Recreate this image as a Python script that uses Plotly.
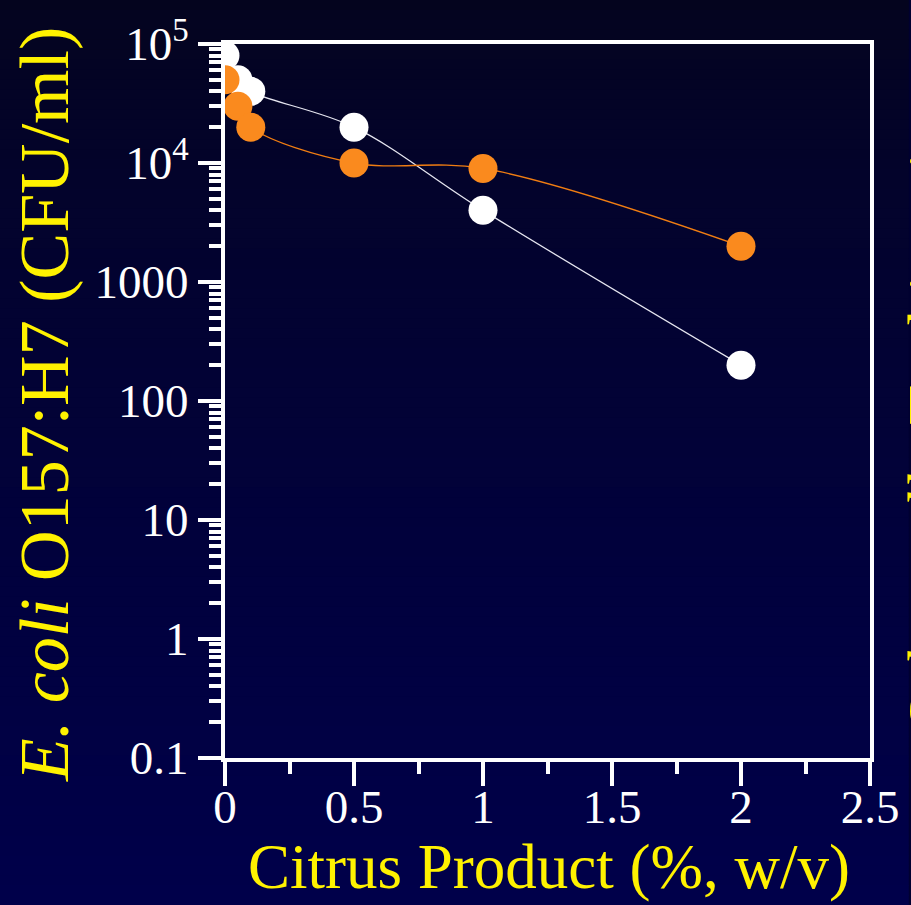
import plotly.graph_objects as go

# Bacterial counts versus citrus product concentration
conc = [0, 0.05, 0.1, 0.5, 1, 2]
ecoli_cfu = [80000, 50000, 40000, 20000, 4000, 200]
salmonella_cfu = [50000, 30000, 20000, 10000, 9000, 2000]

x_tick_vals = [0, 0.5, 1, 1.5, 2, 2.5]
x_tick_text = ["0", "0.5", "1", "1.5", "2", "2.5"]
x_minor_vals = [0.25, 0.75, 1.25, 1.75, 2.25]

y_tick_vals = [0.1, 1, 10, 100, 1000, 1e4, 1e5]
y_tick_text = ["0.1", "1", "10", "100", "1000", "10<sup>4</sup>", "10<sup>5</sup>"]
y_minor_vals = [m * 10 ** e for e in range(-1, 5) for m in range(2, 10)]

W, H = 911, 905
ML, MR, MT, MB = 225, 37, 44, 147
PW, PH = W - ML - MR, H - MT - MB

SERIF = "Liberation Serif, Times New Roman, serif"
YELLOW = "#FFF200"


def px_to_paper_x(px):
    return (px - ML) / PW


def px_to_paper_y(py):
    return (H - MB - py) / PH


fig = go.Figure()

fig.add_trace(go.Scatter(
    x=conc, y=ecoli_cfu, mode="lines+markers",
    line=dict(color="#E6E6F0", width=1.3, shape="spline", smoothing=1),
    marker=dict(color="white", size=29, line=dict(width=0)),
    showlegend=False,
))
fig.add_trace(go.Scatter(
    x=conc, y=salmonella_cfu, mode="lines+markers",
    line=dict(color="#F07D12", width=1.3, shape="spline", smoothing=1),
    marker=dict(color="#FA8A1E", size=29, line=dict(width=0)),
    showlegend=False,
))

# Vertical background gradient built from thin horizontal bands
top_rgb = (4, 4, 30)
bot_rgb = (0, 0, 74)
n_bands = 91
band_h = H / n_bands
shapes = []
for i in range(n_bands):
    t = (i / (n_bands - 1)) ** 0.75
    r = round(top_rgb[0] + (bot_rgb[0] - top_rgb[0]) * t)
    g = round(top_rgb[1] + (bot_rgb[1] - top_rgb[1]) * t)
    b = round(top_rgb[2] + (bot_rgb[2] - top_rgb[2]) * t)
    y0 = i * band_h
    y1 = (i + 1) * band_h + 1
    shapes.append(dict(
        type="rect", xref="paper", yref="paper", layer="below",
        x0=px_to_paper_x(-2), x1=px_to_paper_x(W + 2),
        y0=px_to_paper_y(y1), y1=px_to_paper_y(y0),
        fillcolor=f"rgb({r},{g},{b})", line=dict(width=0),
    ))

annotations = [
    dict(text="Citrus Product (%, w/v)", xref="paper", yref="paper",
         x=px_to_paper_x(551), y=px_to_paper_y(867),
         xanchor="center", yanchor="middle", showarrow=False,
         font=dict(family=SERIF, size=63, color=YELLOW)),
    dict(text="<i>E. coli</i> O157:H7 (CFU/ml)", xref="paper", yref="paper",
         x=px_to_paper_x(43), y=px_to_paper_y(405), textangle=-90,
         xanchor="center", yanchor="middle", showarrow=False,
         font=dict(family=SERIF, size=70, color=YELLOW)),
    dict(text="<i>Salmonella</i> Typhimurium", xref="paper", yref="paper",
         x=px_to_paper_x(935), y=px_to_paper_y(401), textangle=-90,
         xanchor="center", yanchor="middle", showarrow=False,
         font=dict(family=SERIF, size=65, color=YELLOW)),
]

fig.update_layout(
    width=W, height=H,
    margin=dict(l=ML, r=MR, t=MT, b=MB, pad=0),
    paper_bgcolor="#000030",
    plot_bgcolor="rgba(0,0,0,0)",
    shapes=shapes,
    annotations=annotations,
    font=dict(family=SERIF, color="white"),
)

fig.update_xaxes(
    range=[0, 2.5], showgrid=False, zeroline=False,
    showline=True, linecolor="white", linewidth=4, mirror=True,
    ticks="outside", ticklen=24, tickwidth=4, tickcolor="white",
    tickmode="array", tickvals=x_tick_vals, ticktext=x_tick_text,
    tickfont=dict(family=SERIF, size=47, color="white"),
    ticklabelstandoff=-19,
    minor=dict(tickmode="array", tickvals=x_minor_vals, ticks="outside",
               ticklen=12, tickwidth=4, tickcolor="white", showgrid=False),
)
fig.update_yaxes(
    type="log", range=[-1, 5], showgrid=False, zeroline=False,
    showline=True, linecolor="white", linewidth=4, mirror=True,
    ticks="outside", ticklen=23, tickwidth=4, tickcolor="white",
    tickmode="array", tickvals=y_tick_vals, ticktext=y_tick_text,
    tickfont=dict(family=SERIF, size=47, color="white"),
    ticklabelstandoff=0,
    minor=dict(tickmode="array", tickvals=y_minor_vals, ticks="outside",
               ticklen=12, tickwidth=4, tickcolor="white", showgrid=False),
)

fig.write_html("out.html")
